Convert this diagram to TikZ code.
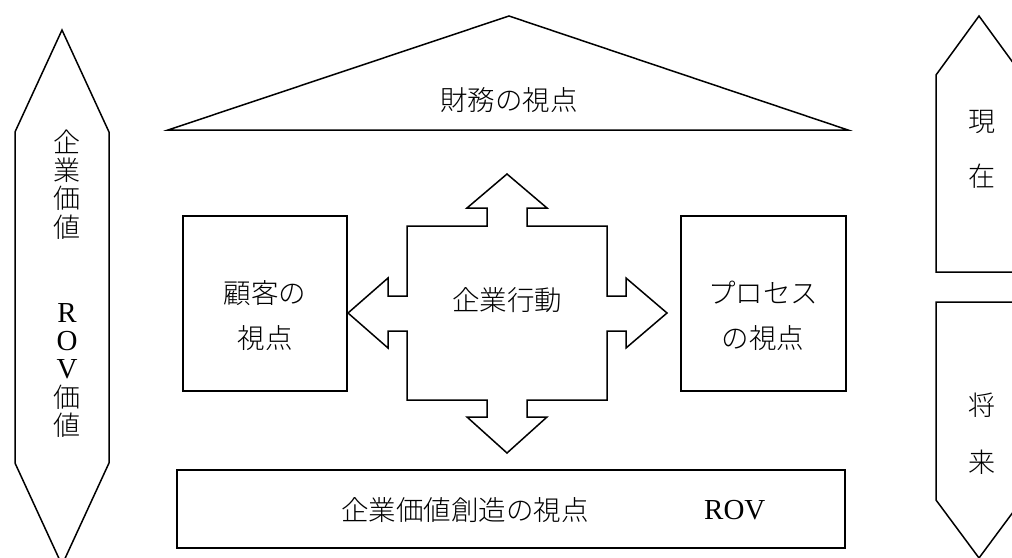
\documentclass[tikz,border=0pt]{standalone}
\usepackage{fontspec}
\setmainfont{Liberation Serif}
\newfontfamily\cjk{Noto Sans CJK JP Light}
\tikzset{
  shapeline/.style={draw=black, line width=1.5pt, fill=white},
  lbl/.style={inner sep=0pt, align=center, font=\cjk\fontsize{27.5}{45}\selectfont},
  vcol/.style={inner sep=0pt, align=center, font=\cjk\fontsize{27}{28.3}\selectfont},
  latin/.style={font=\rmfamily\fontsize{29}{30}\selectfont},
}
\newcommand{\lat}[1]{{\rmfamily\fontsize{29}{30}\selectfont #1}}
\begin{document}
\begin{tikzpicture}[x=1pt,y=-1pt]
\useasboundingbox (0,0) rectangle (1012,557);
\clip (0,0) rectangle (1012,557);
\fill[white] (0,0) rectangle (1012,557);

% left double arrow
\draw[shapeline] (62,30) -- (109,132) -- (109,463) -- (62,565) -- (15,463) -- (15,132) -- cycle;
\node[vcol] (vleft) at (67,283.5) {企\\業\\価\\値\\~\\~\\\lat{R}\\\lat{O}\\\lat{V}\\価\\値};

% triangle
\draw[shapeline] (509,16) -- (848,130) -- (168,130) -- cycle;
\node[lbl] (fin) at (509,100) {財務の視点};

% left and right boxes
\draw[shapeline] (183,216) rectangle (347,391);
\node[lbl] (cust) at (265,315.5) {顧客の\\視点};
\draw[shapeline] (681,216) rectangle (846,391);
\node[lbl] (proc) at (763,315.5) {プロセス\\の視点};

% central cross arrow
\draw[shapeline] (507,174) -- (547,208) -- (527,208) -- (527,226) -- (607,226) -- (607,296)
  -- (626,296) -- (626,278) -- (667,313) -- (626,348) -- (626,331) -- (607,331) -- (607,400)
  -- (527,400) -- (527,417) -- (547,417) -- (507,453) -- (467,417) -- (487,417) -- (487,400)
  -- (407,400) -- (407,331) -- (388,331) -- (388,348) -- (348,313) -- (388,278) -- (388,296)
  -- (407,296) -- (407,226) -- (487,226) -- (487,208) -- (467,208) -- cycle;
\node[lbl] (act) at (507,300) {企業行動};

% bottom box
\draw[shapeline] (177,470) rectangle (845,548);
\node[lbl, anchor=west] (rovtxt) at (341,510) {企業価値創造の視点};
\node[anchor=west, inner sep=0pt] (rov) at (704,510) {\lat{ROV}};

% right pentagons
\draw[shapeline] (936,272) -- (936,75) -- (979,16) -- (1022,75) -- (1022,272) -- cycle;
\node[lbl, font=\cjk\fontsize{27}{55}\selectfont] (now) at (982,149.5) {現\\在};
\draw[shapeline] (936,302) -- (1022,302) -- (1022,500) -- (979,558) -- (936,500) -- cycle;
\node[lbl, font=\cjk\fontsize{27}{57}\selectfont] (fut) at (982,433.5) {将\\来};
\end{tikzpicture}
\end{document}
